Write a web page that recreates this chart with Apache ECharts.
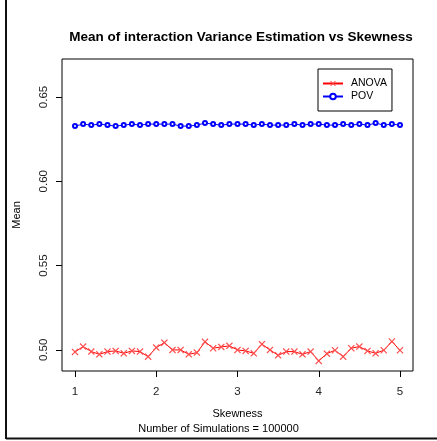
<!DOCTYPE html>
<html>
<head>
<meta charset="utf-8">
<script src="https://cdn.jsdelivr.net/npm/echarts@6/dist/echarts.min.js"></script>
<style>
  html, body { margin: 0; padding: 0; background: #fff; }
  #chart { width: 437px; height: 441px; }
</style>
</head>
<body>
<div id="chart"></div>
<script>
const skewness = [1.0, 1.1, 1.2, 1.3, 1.4, 1.5, 1.6, 1.7, 1.8, 1.9,
    2.0, 2.1, 2.2, 2.3, 2.4, 2.5, 2.6, 2.7, 2.8, 2.9,
    3.0, 3.1, 3.2, 3.3, 3.4, 3.5, 3.6, 3.7, 3.8, 3.9,
    4.0, 4.1, 4.2, 4.3, 4.4, 4.5, 4.6, 4.7, 4.8, 4.9, 5.0];
const anova = [0.4988, 0.5020, 0.4990, 0.4974, 0.4990, 0.4994, 0.4980, 0.4994, 0.4990, 0.4960,
    0.5014, 0.5043, 0.5000, 0.5000, 0.4974, 0.4984, 0.5048, 0.5010, 0.5018, 0.5024,
    0.5000, 0.4994, 0.4980, 0.5034, 0.5000, 0.4968, 0.4990, 0.4990, 0.4974, 0.4990,
    0.4935, 0.4978, 0.4998, 0.4960, 0.5010, 0.5020, 0.4994, 0.4980, 0.4998, 0.5050, 0.4998];
const pov = [0.6327, 0.6339, 0.6333, 0.6339, 0.6333, 0.6327, 0.6333, 0.6339, 0.6333, 0.6339,
    0.6339, 0.6339, 0.6339, 0.6327, 0.6327, 0.6333, 0.6345, 0.6339, 0.6333, 0.6339,
    0.6339, 0.6339, 0.6333, 0.6339, 0.6333, 0.6333, 0.6333, 0.6339, 0.6333, 0.6339,
    0.6339, 0.6333, 0.6333, 0.6339, 0.6333, 0.6339, 0.6333, 0.6345, 0.6333, 0.6339, 0.6333];
const xTicks = [1, 2, 3, 4, 5];
const yTicks = [0.50, 0.55, 0.60, 0.65];

// x-shaped marker (pch 4 look-alike)
const crossPath = 'path://M0,1.2L1.2,0L5,3.8L8.8,0L10,1.2L6.2,5L10,8.8L8.8,10L5,6.2L1.2,10L0,8.8L3.8,5Z';
const font = 'Liberation Sans, Arial, sans-serif';

const chart = echarts.init(document.getElementById('chart'));
chart.setOption({
    animation: false,
    title: {
        text: 'Mean of interaction Variance Estimation vs Skewness',
        left: 236,
        textAlign: 'center',
        top: 25,
        textStyle: { fontFamily: font, fontSize: 13.5, fontWeight: 'bold', color: '#000' }
    },
    legend: {
        orient: 'vertical',
        left: 318,
        top: 69,
        data: ['ANOVA', 'POV'],
        borderColor: '#000',
        borderWidth: 1,
        borderRadius: 0,
        padding: [9, 5, 9, 4],
        itemWidth: 20,
        itemHeight: 7,
        itemGap: 2,
        textStyle: { fontFamily: font, fontSize: 10.5, color: '#000', padding: [0, 0, 0, 3] }
    },
    grid: {
        left: 62, right: 24, top: 59, bottom: 70,
        show: true, borderColor: '#000', borderWidth: 1
    },
    xAxis: {
        type: 'value',
        min: 0.84,
        max: 5.16,
        name: 'Skewness',
        nameLocation: 'middle',
        nameGap: 37,
        nameTextStyle: { fontFamily: font, fontSize: 11, color: '#000' },
        axisLine: { show: false },
        splitLine: { show: false },
        axisTick: { show: true, length: 6, customValues: xTicks, lineStyle: { color: '#000' } },
        axisLabel: { customValues: xTicks, margin: 15, fontFamily: font, fontSize: 11.5, color: '#222' }
    },
    yAxis: {
        type: 'value',
        min: 0.4875,
        max: 0.6725,
        name: 'Mean',
        nameLocation: 'middle',
        nameRotate: 90,
        nameGap: 40,
        nameTextStyle: { fontFamily: font, fontSize: 11, color: '#000' },
        axisLine: { show: false },
        splitLine: { show: false },
        axisTick: { show: true, length: 6, customValues: yTicks, lineStyle: { color: '#000' } },
        axisLabel: {
            customValues: yTicks, rotate: 90, margin: 12,
            fontFamily: font, fontSize: 11.5, color: '#222',
            formatter: v => v.toFixed(2)
        }
    },
    graphic: [
        { type: 'text', left: 'center', top: 423,
          style: { text: 'Number of Simulations = 100000', x: 240, font: '11px ' + font, fill: '#000' } },
        { type: 'line', shape: { x1: 6, y1: 0, x2: 6, y2: 439 }, style: { stroke: '#111', lineWidth: 2 } },
        { type: 'line', shape: { x1: 6, y1: 438.5, x2: 437, y2: 438.5 }, style: { stroke: '#111', lineWidth: 2 } }
    ],
    series: [
        {
            name: 'ANOVA',
            type: 'line',
            data: skewness.map((x, i) => [x, anova[i]]),
            color: '#ff0000',
            symbol: crossPath,
            symbolSize: 7,
            itemStyle: { color: '#ff4d4d' },
            lineStyle: { width: 1, color: '#ff0000' }
        },
        {
            name: 'POV',
            type: 'line',
            data: skewness.map((x, i) => [x, pov[i]]),
            color: '#0000ff',
            symbol: 'emptyCircle',
            symbolSize: 4,
            itemStyle: { color: '#0000ff', borderWidth: 0.8 },
            lineStyle: { width: 1, color: '#0000ff' }
        }
    ]
});
</script>
</body>
</html>
